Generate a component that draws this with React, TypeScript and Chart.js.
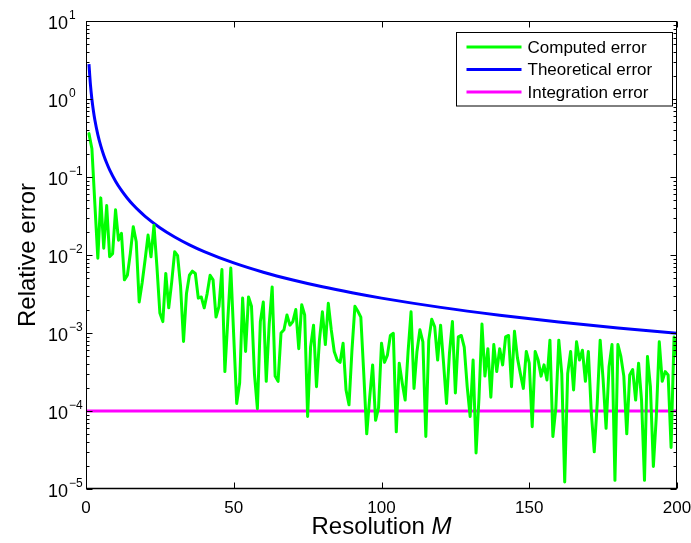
import React, { useEffect, useRef } from 'react';
import { Chart, registerables } from 'chart.js';

Chart.register(...registerables);

// Computed error for M = 1..200
const computedError = [
  0.36, 0.23, 0.045, 0.0091, 0.054, 0.0122, 0.043, 0.0095, 0.0104, 0.038,
  0.0155, 0.019, 0.0048, 0.0055, 0.0105, 0.023, 0.0148, 0.0025, 0.0044, 0.0087,
  0.018, 0.0095, 0.024, 0.0071, 0.0018, 0.0014, 0.0058, 0.0021, 0.0045, 0.011,
  0.0098, 0.004, 0.00078, 0.0032, 0.0055, 0.0062, 0.0058, 0.0028, 0.0029, 0.0021,
  0.0032, 0.0055, 0.0048, 0.0016, 0.0022, 0.0065, 0.00032, 0.0015, 0.0068, 0.0009,
  0.000125, 0.00023, 0.0028, 0.00058, 0.0029, 0.0022, 0.0003, 0.000107, 0.0014, 0.0025,
  0.00024, 0.0013, 0.0039, 0.00028, 0.00024, 0.001, 0.0011, 0.0017, 0.00126, 0.0014,
  0.002, 0.00063, 0.0023, 0.0017, 0.000085, 0.00066, 0.00126, 0.000205, 0.00081, 0.00187,
  0.00071, 0.0024, 0.0011, 0.00058, 0.00045, 0.00042, 0.00074, 0.000186, 0.00012, 0.0006,
  0.0022, 0.0019, 0.0016, 0.0003, 0.000051, 0.000148, 0.00039, 0.000076, 0.00011, 0.00074,
  0.00042, 0.00052, 0.00093, 0.00099, 0.000054, 0.00041, 0.00023, 0.000138, 0.00058, 0.00187,
  0.000195, 0.00058, 0.0011, 0.00077, 0.000047, 0.00081, 0.0015, 0.0012, 0.00045, 0.00126,
  0.00041, 0.000125, 0.00055, 0.0014, 0.00017, 0.00089, 0.00093, 0.00066, 0.000205, 0.000085,
  0.00045, 0.000029, 0.00015, 0.0013, 0.00028, 0.00063, 0.00015, 0.00071, 0.00032, 0.00063,
  0.00039, 0.00089, 0.00093, 0.000205, 0.00105, 0.00048, 0.0003, 0.000195, 0.00058, 0.00041,
  0.000063, 0.00058, 0.00045, 0.00028, 0.00039, 0.00025, 0.00081, 0.000047, 0.00011, 0.00081,
  0.0003, 0.0000123, 0.0003, 0.00058, 0.000186, 0.00077, 0.00045, 0.0006, 0.00024, 0.00058,
  0.000095, 0.00003, 0.000125, 0.00081, 0.00025, 0.00006, 0.00037, 0.00071, 0.0000129, 0.00071,
  0.0005, 0.00028, 0.000051, 0.00029, 0.00034, 0.000138, 0.00041, 0.000138, 0.0000129, 0.0005,
  0.000205, 0.0000195, 0.000085, 0.00077, 0.00024, 0.00032, 0.00029, 0.000034, 0.00089, 0.0005,
];

const theoryM = [1, 1.5, 2, 2.5, 3, 4, 5, 6, 7, 8, 10, 12, 14, 16, 18, 20, 25, 30, 35, 40, 50, 60, 70, 80, 90, 100, 120, 140, 160, 180, 200];
const theoryError = [
  2.8, 1.524, 0.99, 0.708, 0.539, 0.35, 0.2504, 0.1905, 0.1512, 0.1237,
  0.0885, 0.0674, 0.0535, 0.04375, 0.0367, 0.0313, 0.0224, 0.01704, 0.01352, 0.01107,
  0.00792, 0.00602, 0.00478, 0.00391, 0.00328, 0.0028, 0.00213, 0.00169, 0.00138, 0.00116, 0.00099,
];

const integrationM = [0, 200];
const integrationError = [1e-4, 1e-4];

const xTicks = [0, 50, 100, 150, 200];
const yTickExponents = [-5, -4, -3, -2, -1, 0, 1];

const seriesLabels = ['Computed error', 'Theoretical error', 'Integration error'];
const seriesColors = ['#00ff00', '#0000ff', '#ff00ff'];

const xTitle = 'Resolution ';
const xTitleItalic = 'M';
const yTitle = 'Relative error';

const FONT = '"Liberation Sans", Arial, Helvetica, sans-serif';

const matlabPlugin = {
  id: 'matlabAxes',
  afterDatasetsDraw(chart: any) {
    const { ctx, chartArea: a, scales } = chart;
    const xs = scales.x;
    const ys = scales.y;
    ctx.save();
    ctx.strokeStyle = '#000';
    ctx.fillStyle = '#000';
    ctx.lineWidth = 1;
    const L = Math.round(a.left) + 0.5;
    const R = Math.round(a.right) - 0.5;
    const T = Math.round(a.top) + 0.5;
    const B = Math.round(a.bottom) - 0.5;
    const seg = (x1: number, y1: number, x2: number, y2: number) => {
      ctx.beginPath();
      ctx.moveTo(x1, y1);
      ctx.lineTo(x2, y2);
      ctx.stroke();
    };
    // frame
    ctx.strokeRect(L, T, R - L, B - T);
    ctx.lineWidth = 1.6;
    seg(L - 0.3, B, R + 0.5, B);
    ctx.lineWidth = 1;
    // x ticks (inward, bottom and top)
    xTicks.forEach((v) => {
      const px = Math.round(xs.getPixelForValue(v)) + 0.5;
      seg(px, B, px, B - 6);
      seg(px, T, px, T + 6);
    });
    // y ticks
    const maxE = yTickExponents[yTickExponents.length - 1];
    yTickExponents.forEach((e) => {
      const py = Math.round(ys.getPixelForValue(Math.pow(10, e))) + 0.5;
      seg(L, py, L + 6, py);
      seg(R, py, R - 6, py);
      if (e < maxE) {
        for (let k = 2; k <= 9; k++) {
          const pm = Math.round(ys.getPixelForValue(k * Math.pow(10, e))) + 0.5;
          seg(L, pm, L + 3, pm);
          seg(R, pm, R - 3, pm);
        }
      }
    });
    // y tick labels with superscript exponents
    yTickExponents.forEach((e) => {
      const py = ys.getPixelForValue(Math.pow(10, e));
      ctx.font = `18px ${FONT}`;
      ctx.textAlign = 'left';
      ctx.textBaseline = 'middle';
      ctx.fillText('10', 48, py + 3);
      const w = ctx.measureText('10').width;
      ctx.font = `12px ${FONT}`;
      ctx.fillText(e < 0 ? '\u2212' + String(-e) : String(e), 48 + w + 1, py - 5);
    });
    // y title
    ctx.save();
    ctx.translate(28, (a.top + a.bottom) / 2);
    ctx.rotate(-Math.PI / 2);
    ctx.font = `24px ${FONT}`;
    ctx.textAlign = 'center';
    ctx.textBaseline = 'middle';
    ctx.fillText(yTitle, 0, 0);
    ctx.restore();
    // x title with italic M
    ctx.font = `24px ${FONT}`;
    const w1 = ctx.measureText(xTitle).width;
    ctx.font = `italic 24px ${FONT}`;
    const w2 = ctx.measureText(xTitleItalic).width;
    const cx = (a.left + a.right) / 2;
    const sx = cx - (w1 + w2) / 2;
    ctx.textAlign = 'left';
    ctx.textBaseline = 'middle';
    ctx.font = `24px ${FONT}`;
    ctx.fillText(xTitle, sx, 527);
    ctx.font = `italic 24px ${FONT}`;
    ctx.fillText(xTitleItalic, sx + w1, 527);
    // legend
    const bx = Math.round(a.right) - 220.5;
    const by = Math.round(a.top) + 11.5;
    const bw = 216;
    const bh = 73.5;
    ctx.fillStyle = '#fff';
    ctx.fillRect(bx, by, bw, bh);
    ctx.strokeStyle = '#000';
    ctx.lineWidth = 1;
    ctx.strokeRect(bx, by, bw, bh);
    ctx.font = `17px ${FONT}`;
    ctx.textAlign = 'left';
    ctx.textBaseline = 'middle';
    seriesLabels.forEach((lab, i) => {
      const ry = by + 14.5 + i * 22.5;
      ctx.strokeStyle = seriesColors[i];
      ctx.lineWidth = 3;
      seg(bx + 10, ry, bx + 65, ry);
      ctx.fillStyle = '#000';
      ctx.fillText(lab, bx + 71, ry + 1);
    });
    ctx.restore();
  },
};

export default function App() {
  const canvasRef = useRef<HTMLCanvasElement | null>(null);

  useEffect(() => {
    if (!canvasRef.current) return;
    const chart = new Chart(canvasRef.current, {
      type: 'line',
      data: {
        datasets: [
          {
            label: seriesLabels[0],
            data: computedError.map((v, i) => ({ x: i + 1, y: v })),
            borderColor: seriesColors[0],
            backgroundColor: seriesColors[0],
            borderWidth: 3,
            pointRadius: 0,
            borderJoinStyle: 'round',
            borderCapStyle: 'round',
            tension: 0,
          },
          {
            label: seriesLabels[1],
            data: theoryM.map((m, i) => ({ x: m, y: theoryError[i] })),
            borderColor: seriesColors[1],
            backgroundColor: seriesColors[1],
            borderWidth: 3,
            pointRadius: 0,
            cubicInterpolationMode: 'monotone',
          },
          {
            label: seriesLabels[2],
            data: integrationM.map((m, i) => ({ x: m, y: integrationError[i] })),
            borderColor: seriesColors[2],
            backgroundColor: seriesColors[2],
            borderWidth: 3,
            pointRadius: 0,
          },
        ],
      } as any,
      options: {
        responsive: false,
        animation: false,
        devicePixelRatio: 1,
        layout: { padding: { top: 21, right: 14, left: 0, bottom: 0 } },
        plugins: { legend: { display: false }, tooltip: { enabled: false } },
        scales: {
          x: {
            type: 'linear',
            min: 0,
            max: 200,
            afterBuildTicks: (s: any) => {
              s.ticks = xTicks.map((v) => ({ value: v }));
            },
            afterFit: (s: any) => {
              s.height = 54;
              s.paddingLeft = 0;
              s.paddingRight = 0;
            },
            grid: { display: false, drawTicks: false },
            border: { display: false },
            ticks: {
              font: { family: FONT, size: 17 },
              color: '#000',
              padding: 9,
              maxRotation: 0,
              autoSkip: false,
            },
          },
          y: {
            type: 'logarithmic',
            min: 1e-5,
            max: 10,
            afterFit: (s: any) => {
              s.width = 86;
              s.paddingTop = 0;
              s.paddingBottom = 0;
            },
            grid: { display: false },
            border: { display: false },
            ticks: { display: false },
          },
        },
      } as any,
      plugins: [matlabPlugin],
    });
    return () => chart.destroy();
  }, []);

  return (
    <div style={{ position: 'fixed', left: 0, top: 0, width: 691, height: 543, background: '#fff' }}>
      <canvas ref={canvasRef} width={691} height={543} style={{ display: 'block' }} />
    </div>
  );
}
